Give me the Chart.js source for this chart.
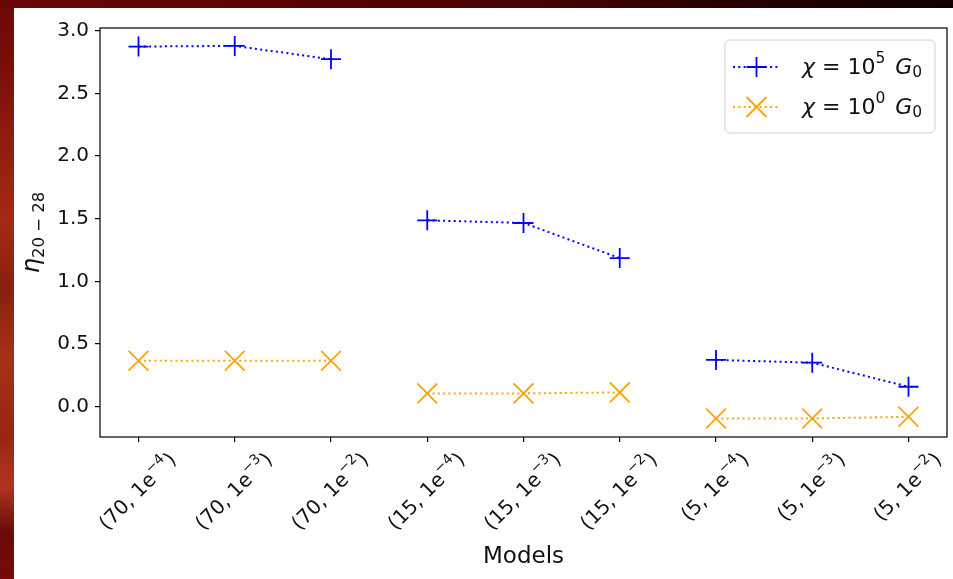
<!DOCTYPE html>
<html>
<head>
<meta charset="utf-8">
<script src="https://cdn.jsdelivr.net/npm/chart.js@4.4.1/dist/chart.umd.min.js"></script>
<style>
  html, body { margin: 0; padding: 0; width: 953px; height: 579px; overflow: hidden; background: #6e0a08; }
  #edgeLeft {
    position: absolute; left: 0; top: 0; width: 14px; height: 579px;
    background: linear-gradient(to bottom, #6e0806 0%, #7c0d0a 12%, #8c1a10 22%, #a52a15 38%, #8a2010 50%,
      #a83018 62%, #9a2515 75%, #b03520 84%, #6a0a0a 92%, #7a0808 100%);
  }
  #edgeTop {
    position: absolute; left: 0; top: 0; width: 953px; height: 8px;
    background: linear-gradient(to right, #6a0606 0%, #5a0404 30%, #4a0303 55%, #2a0101 75%, #100000 100%);
  }
  #panel { position: absolute; left: 14px; top: 8px; width: 939px; height: 571px; background: #fff; }
  #panel canvas { display: block; }
</style>
</head>
<body>
<div id="edgeLeft"></div>
<div id="edgeTop"></div>
<div id="panel"><canvas id="chart" width="939" height="571"></canvas></div>
<script>
// models: (mass, 1e^exp), grouped by mass
const massLabels = ['70', '70', '70', '15', '15', '15', '5', '5', '5'];
const expLabels = ['−4', '−3', '−2', '−4', '−3', '−2', '−4', '−3', '−2'];
const massGroup = [0, 0, 0, 1, 1, 1, 2, 2, 2];

// eta_20-28 for the two radiation fields
const etaChiHigh = [2.874, 2.879, 2.773, 1.487, 1.466, 1.186, 0.373, 0.351, 0.159];
const etaChiLow = [0.367, 0.367, 0.367, 0.106, 0.106, 0.114, -0.094, -0.094, -0.081];

const yTickValues = [0, 0.5, 1.0, 1.5, 2.0, 2.5, 3.0];

const FONT = "'DejaVu Sans', sans-serif";
const BLUE = '#0000ff';
const ORANGE = '#ffa500';

const toPoints = vals => vals.map((v, i) => ({ x: i, y: v }));

// only join points of the same mass group
const groupSegment = {
    borderColor: c => massGroup[c.p0DataIndex] !== massGroup[c.p1DataIndex] ? 'rgba(0,0,0,0)' : undefined
};

function partFont(p) {
    return (p.italic ? 'italic ' : '') + p.size + 'px ' + FONT;
}

function richWidth(ctx, parts) {
    let w = 0;
    parts.forEach(p => { ctx.font = partFont(p); w += ctx.measureText(p.t).width; });
    return w;
}

function drawRich(ctx, parts, x, y) {
    parts.forEach(p => {
        ctx.font = partFont(p);
        ctx.fillText(p.t, x, y + (p.dy || 0));
        x += ctx.measureText(p.t).width;
    });
}

function roundRect(ctx, x, y, w, h, r) {
    ctx.beginPath();
    ctx.moveTo(x + r, y);
    ctx.arcTo(x + w, y, x + w, y + h, r);
    ctx.arcTo(x + w, y + h, x, y + h, r);
    ctx.arcTo(x, y + h, x, y, r);
    ctx.arcTo(x, y, x + w, y, r);
    ctx.closePath();
}

const decorations = {
    id: 'decorations',
    afterDatasetsDraw(chart) {
        const { ctx, chartArea: a, scales: { x } } = chart;
        ctx.save();

        // full axes frame
        ctx.strokeStyle = '#000';
        ctx.lineWidth = 1.2;
        ctx.strokeRect(a.left, a.top, a.right - a.left, a.bottom - a.top);

        // rotated model labels, centred under each tick
        ctx.fillStyle = '#111';
        ctx.textBaseline = 'middle';
        ctx.textAlign = 'left';
        const topY = a.bottom + 13;
        massLabels.forEach((m, i) => {
            const parts = [
                { t: '(' + m + ', 1e', size: 20 },
                { t: expLabels[i], size: 14, dy: -8 },
                { t: ')', size: 20 }
            ];
            const w = richWidth(ctx, parts);
            const d = (w + 20) * Math.SQRT1_2;
            ctx.save();
            ctx.translate(x.getPixelForValue(i), topY + d / 2);
            ctx.rotate(-Math.PI / 4);
            drawRich(ctx, parts, -w / 2, 0);
            ctx.restore();
        });

        // axis titles
        ctx.textBaseline = 'alphabetic';
        ctx.font = '23px ' + FONT;
        ctx.textAlign = 'center';
        ctx.fillText('Models', (a.left + a.right) / 2, 555);

        ctx.textAlign = 'left';
        const yParts = [
            { t: 'η', size: 24, italic: true },
            { t: '20 − 28', size: 16.5, dy: 5 }
        ];
        const yw = richWidth(ctx, yParts);
        ctx.save();
        ctx.translate(25, (a.top + a.bottom) / 2);
        ctx.rotate(-Math.PI / 2);
        drawRich(ctx, yParts, -yw / 2, 0);
        ctx.restore();

        // legend
        const lx = 711, ly = 32, lw = 210, lh = 93;
        ctx.fillStyle = 'rgba(255,255,255,0.8)';
        ctx.strokeStyle = '#d0d0d0';
        ctx.lineWidth = 1;
        roundRect(ctx, lx, ly, lw, lh, 5);
        ctx.fill();
        ctx.stroke();

        chart.data.datasets.forEach((ds, k) => {
            const ry = ly + 27 + k * 40;
            ctx.strokeStyle = ds.borderColor;
            ctx.lineWidth = 2;
            ctx.setLineDash(ds.borderDash);
            ctx.beginPath();
            ctx.moveTo(lx + 8, ry);
            ctx.lineTo(lx + 55, ry);
            ctx.stroke();
            ctx.setLineDash([]);
            ctx.lineWidth = 1.8;
            const cx = lx + 31.5;
            ctx.beginPath();
            if (ds.pointStyle === 'cross') {
                ctx.moveTo(cx - 10, ry); ctx.lineTo(cx + 10, ry);
                ctx.moveTo(cx, ry - 10); ctx.lineTo(cx, ry + 10);
            } else {
                ctx.moveTo(cx - 10, ry - 10); ctx.lineTo(cx + 10, ry + 10);
                ctx.moveTo(cx - 10, ry + 10); ctx.lineTo(cx + 10, ry - 10);
            }
            ctx.stroke();

            ctx.fillStyle = '#111';
            ctx.textBaseline = 'middle';
            drawRich(ctx, [
                { t: 'χ', size: 22, italic: true },
                { t: ' = 10', size: 22 },
                { t: ds.expText, size: 15.5, dy: -9 },
                { t: '  ', size: 15.5 },
                { t: 'G', size: 22, italic: true },
                { t: '0', size: 15.5, dy: 5 }
            ], lx + 77, ry + 1);
        });

        ctx.restore();
    }
};

const ctx = document.getElementById('chart').getContext('2d');
new Chart(ctx, {
    type: 'line',
    data: {
        datasets: [{
            label: 'chi = 10^5 G0',
            expText: '5',
            data: toPoints(etaChiHigh),
            borderColor: BLUE,
            borderWidth: 2,
            borderDash: [2, 3.3],
            segment: groupSegment,
            pointStyle: 'cross',
            pointRadius: 10,
            pointBorderWidth: 1.8,
            pointBorderColor: BLUE,
            fill: false,
            tension: 0
        }, {
            label: 'chi = 10^0 G0',
            expText: '0',
            data: toPoints(etaChiLow),
            borderColor: ORANGE,
            borderWidth: 2,
            borderDash: [2, 3.3],
            segment: groupSegment,
            pointStyle: 'crossRot',
            pointRadius: 14,
            pointBorderWidth: 1.8,
            pointBorderColor: ORANGE,
            fill: false,
            tension: 0
        }]
    },
    options: {
        responsive: false,
        devicePixelRatio: 1,
        animation: false,
        layout: { autoPadding: false, padding: { left: 0, top: 20, right: 6, bottom: 0 } },
        plugins: {
            legend: { display: false },
            tooltip: { enabled: false }
        },
        scales: {
            x: {
                type: 'linear',
                min: -0.4,
                max: 8.4,
                afterBuildTicks: s => { s.ticks = massLabels.map((_, i) => ({ value: i })); },
                afterFit: s => { s.height = 142; },
                ticks: { display: false },
                grid: { drawOnChartArea: false, drawTicks: true, tickLength: 5, color: '#000', lineWidth: 1.2 },
                border: { display: false }
            },
            y: {
                type: 'linear',
                min: -0.242,
                max: 3.022,
                afterBuildTicks: s => { s.ticks = yTickValues.map(v => ({ value: v })); },
                afterFit: s => { s.width = 86; },
                ticks: {
                    color: '#111',
                    padding: 6,
                    font: { family: 'DejaVu Sans', size: 20 },
                    callback: v => v.toFixed(1)
                },
                grid: { drawOnChartArea: false, drawTicks: true, tickLength: 5, color: '#000', lineWidth: 1.2 },
                border: { display: false }
            }
        }
    },
    plugins: [decorations]
});
</script>
</body>
</html>
